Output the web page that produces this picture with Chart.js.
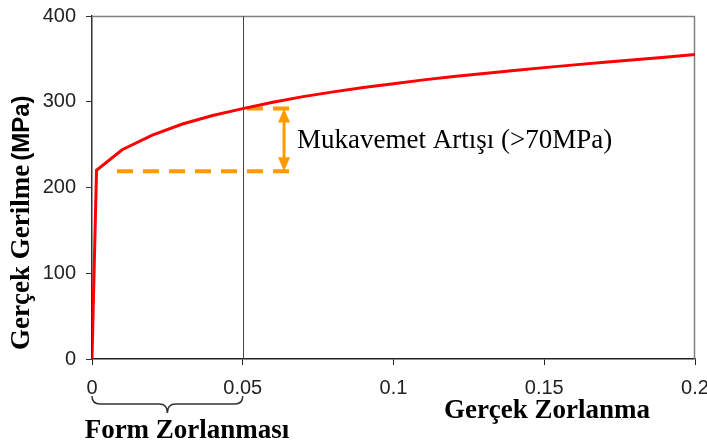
<!DOCTYPE html>
<html>
<head>
<meta charset="utf-8">
<script src="https://cdn.jsdelivr.net/npm/chart.js@4"></script>
<style>
  body { margin: 0; background: #fff; }
  #wrap { width: 707px; height: 448px; }
</style>
</head>
<body>
<div id="wrap"><canvas id="chart" width="707" height="448"></canvas></div>
<script>
// true stress-strain curve
const strain = [0, 0.0015, 0.01, 0.02, 0.03, 0.04, 0.05, 0.06, 0.07, 0.08, 0.09, 0.1, 0.11, 0.12, 0.13, 0.14, 0.15, 0.16, 0.17, 0.18, 0.19, 0.2];
const stress = [0, 220, 244, 261, 274, 284, 292, 299.5, 306, 311.5, 316.5, 321, 325.5, 329.5, 333, 336.5, 339.8, 343, 346, 349, 352, 355];

const xTicks = [0, 0.05, 0.1, 0.15, 0.2];
const yTicks = [0, 100, 200, 300, 400];

// strength increase marks
const upperDashX = [0.0514, 0.0687];
const upperDashY = [292, 292];
const lowerDashX = [0.0083, 0.0687];
const lowerDashY = [219, 219];
const arrowX = 0.0637;
const markLine = 0.05;

const annoText = 'Mukavemet Artışı (>70MPa)';
const yTitle = 'Gerçek Gerilme';
const yUnit = '(MPa)';
const xTitle = 'Gerçek Zorlanma';
const formTitle = 'Form Zorlanması';

const ORANGE = '#FF9A00';
const SERIF = '"Liberation Serif", "Times New Roman", serif';
const SANS = '"Liberation Sans", Arial, sans-serif';

const pts = (xs, ys) => xs.map((x, i) => ({ x: x, y: ys[i] }));

const extras = {
  id: 'extras',
  beforeDatasetsDraw(chart) {
    const { ctx, chartArea: a, scales: { x } } = chart;
    ctx.save();
    // box top/right
    ctx.strokeStyle = '#808080';
    ctx.lineWidth = 1.5;
    ctx.beginPath();
    ctx.moveTo(a.left, a.top + 0.5);
    ctx.lineTo(a.right - 0.5, a.top + 0.5);
    ctx.lineTo(a.right - 0.5, a.bottom);
    ctx.stroke();
    // vertical line at 0.05
    const px = Math.round(x.getPixelForValue(markLine)) + 0.5;
    ctx.strokeStyle = '#444';
    ctx.lineWidth = 1;
    ctx.beginPath();
    ctx.moveTo(px, a.top);
    ctx.lineTo(px, a.bottom);
    ctx.stroke();
    ctx.restore();
  },
  afterDraw(chart) {
    const { ctx, scales: { x, y } } = chart;
    ctx.save();
    // arrow
    const ax = x.getPixelForValue(arrowX);
    const y1 = y.getPixelForValue(upperDashY[0]);
    const y2 = y.getPixelForValue(lowerDashY[0]);
    ctx.strokeStyle = ORANGE;
    ctx.fillStyle = ORANGE;
    ctx.lineWidth = 3;
    ctx.beginPath();
    ctx.moveTo(ax, y1 + 10);
    ctx.lineTo(ax, y2 - 10);
    ctx.stroke();
    ctx.beginPath();
    ctx.moveTo(ax, y1);
    ctx.lineTo(ax - 6, y1 + 14);
    ctx.lineTo(ax + 6, y1 + 14);
    ctx.closePath();
    ctx.fill();
    ctx.beginPath();
    ctx.moveTo(ax, y2);
    ctx.lineTo(ax - 6, y2 - 14);
    ctx.lineTo(ax + 6, y2 - 14);
    ctx.closePath();
    ctx.fill();

    // annotation text
    ctx.fillStyle = '#000';
    ctx.font = '27px ' + SERIF;
    ctx.textAlign = 'left';
    ctx.textBaseline = 'middle';
    ctx.fillText(annoText, ax + 13, (y1 + y2) / 2 + 1);

    // y title: serif words + sans unit, bottom at y=350
    ctx.save();
    ctx.translate(22, 350);
    ctx.rotate(-Math.PI / 2);
    ctx.textAlign = 'left';
    ctx.textBaseline = 'middle';
    ctx.font = 'bold 27px ' + SERIF;
    ctx.fillText(yTitle, 0, 0);
    const w = ctx.measureText(yTitle).width + 4;
    ctx.font = 'bold 24px ' + SANS;
    ctx.fillText(yUnit, w, 0);
    ctx.restore();

    // x titles
    ctx.font = 'bold 27px ' + SERIF;
    ctx.textAlign = 'center';
    ctx.textBaseline = 'middle';
    ctx.fillText(xTitle, 547, 411);
    ctx.fillText(formTitle, 187, 431);

    // brace under 0..0.05
    const bl = x.getPixelForValue(0);
    const br = x.getPixelForValue(markLine);
    const bm = (bl + br) / 2;
    const top = 396, mid = 404, tip = 413;
    ctx.strokeStyle = '#333';
    ctx.lineWidth = 1.5;
    ctx.beginPath();
    ctx.moveTo(bl, top);
    ctx.quadraticCurveTo(bl, mid, bl + 8, mid);
    ctx.lineTo(bm - 8, mid);
    ctx.quadraticCurveTo(bm, mid, bm, tip);
    ctx.quadraticCurveTo(bm, mid, bm + 8, mid);
    ctx.lineTo(br - 8, mid);
    ctx.quadraticCurveTo(br, mid, br, top);
    ctx.stroke();
    ctx.restore();
  }
};

new Chart(document.getElementById('chart'), {
  type: 'scatter',
  data: {
    datasets: [
      {
        data: pts(strain, stress),
        showLine: true,
        borderColor: '#FF0000',
        borderWidth: 3,
        pointRadius: 0,
        tension: 0
      },
      {
        data: pts(upperDashX, upperDashY),
        showLine: true,
        borderColor: ORANGE,
        borderWidth: 4,
        borderDash: [16, 10],
        pointRadius: 0
      },
      {
        data: pts(lowerDashX, lowerDashY),
        showLine: true,
        borderColor: ORANGE,
        borderWidth: 4,
        borderDash: [16, 10],
        pointRadius: 0
      }
    ]
  },
  options: {
    responsive: false,
    animation: false,
    layout: { padding: { left: 0, right: 12, top: 16, bottom: 0 } },
    plugins: { legend: { display: false }, tooltip: { enabled: false } },
    scales: {
      x: {
        type: 'linear',
        min: 0,
        max: 0.2,
        afterBuildTicks: s => { s.ticks = xTicks.map(v => ({ value: v })); },
        afterFit: s => { s.height = 448 - 359; s.paddingLeft = 0; s.paddingRight = 0; },
        grid: { drawOnChartArea: false, tickLength: 6, color: '#222', tickColor: '#222' },
        border: { color: '#222', width: 1.5 },
        ticks: {
          color: '#222',
          padding: 11,
          maxRotation: 0,
          font: { family: SANS, size: 20 },
          callback: v => String(v)
        }
      },
      y: {
        min: 0,
        max: 400,
        afterBuildTicks: s => { s.ticks = yTicks.map(v => ({ value: v })); },
        afterFit: s => { s.width = 92; s.paddingTop = 0; s.paddingBottom = 0; },
        grid: { drawOnChartArea: false, tickLength: 6, color: '#333', tickColor: '#333' },
        border: { color: '#333', width: 1.5 },
        ticks: {
          color: '#222',
          padding: 10,
          font: { family: SANS, size: 20 },
          callback: v => String(v)
        }
      }
    }
  },
  plugins: [extras]
});
</script>
</body>
</html>
